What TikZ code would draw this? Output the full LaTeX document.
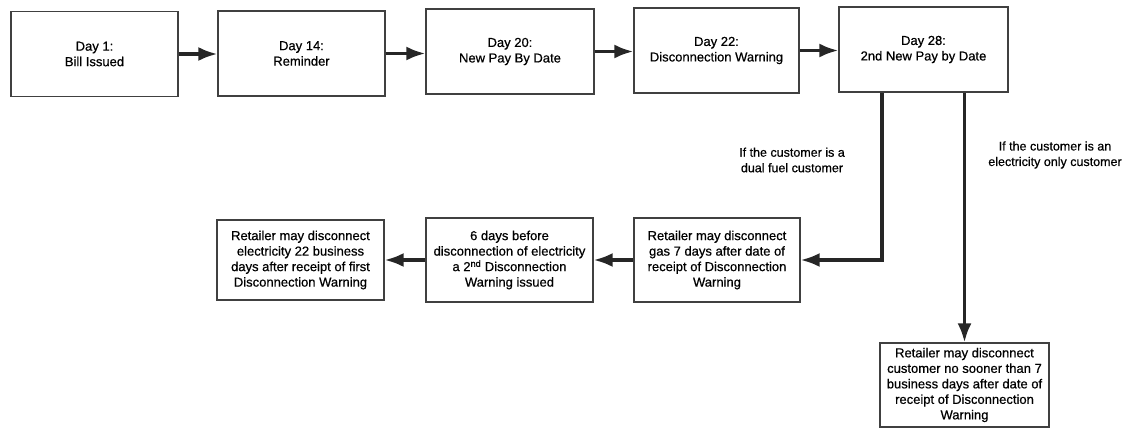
\documentclass[tikz,border=0pt]{standalone}
\usepackage{fontspec}
\setmainfont{Liberation Sans}
\newfontfamily\heavy{Liberation Sans}[FakeBold=0.6]
\usetikzlibrary{arrows.meta}
\tikzset{
  box/.style={draw=black!75, line width=1.3pt, align=center, inner sep=0pt,
    font=\heavy\fontsize{13}{15.5}\selectfont},
  conn/.style={draw=black!85, line width=3.2pt, -{Latex[length=19pt,width=14pt]}},
  lbl/.style={align=center, inner sep=0pt, font=\heavy\fontsize{12.5}{15.5}\selectfont}
}
\begin{document}
\begin{tikzpicture}[x=1pt,y=-1pt]
\useasboundingbox (0,0) rectangle (1132,428);
\node[box, minimum width=167pt, minimum height=85pt] (d1) at (94.5,54) {Day 1:\\Bill Issued};
\node[box, minimum width=167pt, minimum height=85pt] (d14) at (301.5,53.5) {Day 14:\\Reminder};
\node[box, minimum width=168pt, minimum height=85pt] (d20) at (510,51.5) {Day 20:\\New Pay By Date};
\node[box, minimum width=165pt, minimum height=85pt] (d22) at (716.5,50.5) {Day 22:\\Disconnection Warning};
\node[box, minimum width=169pt, minimum height=85pt] (d28) at (923.5,49.5) {Day 28:\\2nd New Pay by Date};

\node[box, minimum width=166pt, minimum height=84pt] (gas) at (717,260) {Retailer may disconnect\\gas 7 days after date of\\receipt of Disconnection\\Warning};
\node[box, minimum width=167pt, minimum height=84pt] (sec) at (509.5,260) {6 days before\\disconnection of electricity\\a 2\textsuperscript{nd} Disconnection\\Warning issued};
\node[box, minimum width=167pt, minimum height=80pt] (elec) at (300.5,260) {Retailer may disconnect\\electricity 22 business\\days after receipt of first\\Disconnection Warning};
\node[box, minimum width=169pt, minimum height=84pt] (only) at (964.5,385) {Retailer may disconnect\\customer no sooner than 7\\business days after date of\\receipt of Disconnection\\Warning};

\node[lbl] (ldual) at (792,160) {If the customer is a\\dual fuel customer};
\node[lbl] (lonly) at (1055,155) {If the customer is an\\electricity only customer};

\draw[conn] (d1.east) -- (d1.east -| d14.west);
\draw[conn] (d14.east) -- (d14.east -| d20.west);
\draw[conn] (d20.east) -- (d20.east -| d22.west);
\draw[conn] (d22.east) -- (d22.east -| d28.west);

\coordinate (c1) at (882,260);
\draw[conn] (d28.south -| c1) -- (c1) -- (gas.east);
\draw[conn] (d28.south -| only.north) -- (only.north);
\draw[conn] (gas.west) -- (sec.east);
\draw[conn] (sec.west) -- (sec.west -| elec.east);
\end{tikzpicture}
\end{document}
